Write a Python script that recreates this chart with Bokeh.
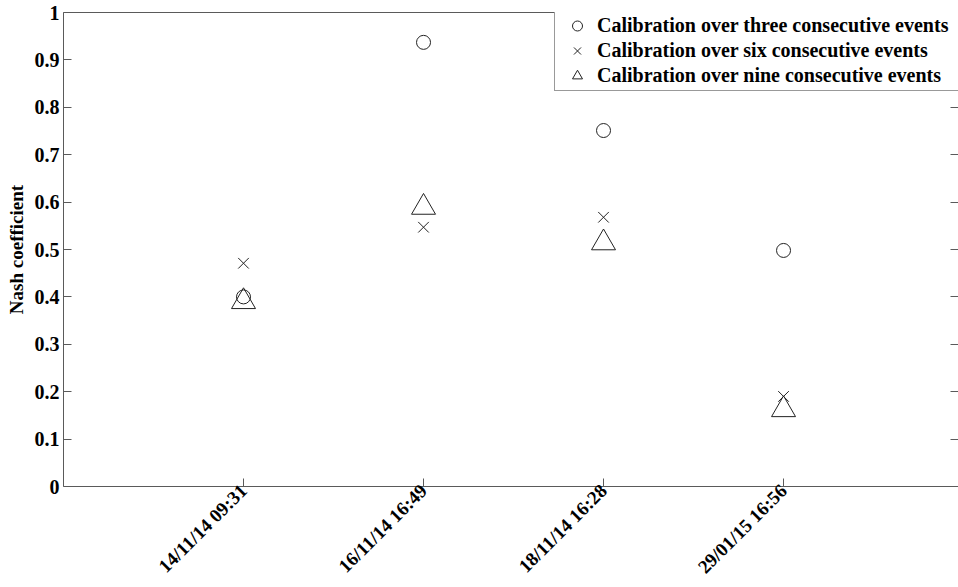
from bokeh.plotting import figure
from bokeh.models import (Range1d, FixedTicker, LinearAxis, Legend, LegendItem,
                          ColumnDataSource)
from bokeh.embed import file_html
from bokeh.resources import INLINE

# ---- data ----
categories = ["14/11/14 09:31", "16/11/14 16:49", "18/11/14 16:28", "29/01/15 16:56"]
three_events = [0.40, 0.937, 0.751, 0.498]
six_events = [0.471, 0.547, 0.568, 0.190]
nine_events = [0.390, 0.589, 0.514, 0.162]
series_names = ["Calibration over three consecutive events",
                "Calibration over six consecutive events",
                "Calibration over nine consecutive events"]
y_ticks = [0, 0.1, 0.2, 0.3, 0.4, 0.5, 0.6, 0.7, 0.8, 0.9, 1]
y_tick_labels = ["0", "0.1", "0.2", "0.3", "0.4", "0.5", "0.6", "0.7", "0.8", "0.9", "1"]

x_pos = [i + 1 for i in range(len(categories))]

FONT = "Liberation Serif"
AXIS_COLOR = "#5a5a5a"
W, H = 958, 587
FRAME_H = 474

p = figure(width=W, height=H, output_backend="svg", toolbar_location=None,
           x_range=Range1d(0, 4.972), y_range=Range1d(0, 1),
           min_border_left=63, min_border_top=12, min_border_right=0,
           min_border_bottom=101)
p.outline_line_color = None
p.xgrid.visible = False
p.ygrid.visible = False

src = ColumnDataSource(dict(x=x_pos, three=three_events, six=six_events, nine=nine_events))

r1 = p.scatter("x", "three", source=src, marker="circle", size=14,
               fill_color=None, line_color="#222222", line_width=1)
r2 = p.scatter("x", "six", source=src, marker="x", size=15,
               line_color="#222222", line_width=1)
r3 = p.scatter("x", "nine", source=src, marker="triangle", size=24,
               fill_color=None, line_color="#222222", line_width=1)

# x axis
xa = p.xaxis[0]
xa.ticker = FixedTicker(ticks=x_pos)
xa.major_label_overrides = {x: c for x, c in zip(x_pos, categories)}
xa.major_label_orientation = 0.7853981633974483
xa.major_tick_in = 8
xa.major_tick_out = 0
xa.minor_tick_line_color = None
xa.axis_line_color = AXIS_COLOR
xa.major_tick_line_color = AXIS_COLOR
xa.major_label_text_font = FONT
xa.major_label_text_font_style = "bold"
xa.major_label_text_font_size = "19px"
xa.major_label_text_color = "black"
xa.major_label_standoff = 1

# y axis
ya = p.yaxis[0]
ya.ticker = FixedTicker(ticks=y_ticks)
ya.major_label_overrides = {t: l for t, l in zip(y_ticks, y_tick_labels)}
ya.major_tick_in = 8
ya.major_tick_out = 0
ya.minor_tick_line_color = None
ya.axis_line_color = AXIS_COLOR
ya.major_tick_line_color = AXIS_COLOR
ya.major_label_text_font = FONT
ya.major_label_text_font_style = "bold"
ya.major_label_text_font_size = "20px"
ya.major_label_text_color = "black"
ya.major_label_standoff = 4
ya.axis_label = "Nash coefficient"
ya.axis_label_text_font = FONT
ya.axis_label_text_font_style = "bold"
ya.axis_label_text_font_size = "19px"
ya.axis_label_text_color = "black"
ya.axis_label_standoff = 5

# top line (frame) and right ticks
top = LinearAxis(ticker=FixedTicker(ticks=[]),
                 axis_line_color=AXIS_COLOR, major_tick_line_color=None,
                 minor_tick_line_color=None)
p.add_layout(top, "above")
right = LinearAxis(ticker=FixedTicker(ticks=y_ticks),
                   major_label_overrides={t: "" for t in y_ticks},
                   axis_line_color=None, major_tick_line_color=AXIS_COLOR,
                   major_tick_in=8, major_tick_out=0, minor_tick_line_color=None,
                   major_label_standoff=0)
p.add_layout(right, "right")

legend = Legend(items=[LegendItem(label=series_names[0], renderers=[r1]),
                       LegendItem(label=series_names[1], renderers=[r2]),
                       LegendItem(label=series_names[2], renderers=[r3])],
                location=(491, FRAME_H - 79), margin=0, padding=2, spacing=0,
                glyph_width=40, glyph_height=25, label_height=25,
                label_standoff=0, label_width=380,
                label_text_font=FONT, label_text_font_style="bold",
                label_text_font_size="20px", label_text_color="black",
                border_line_color="#333333", border_line_width=1,
                background_fill_alpha=1.0)
p.add_layout(legend, "center")

open("out.html", "w").write(file_html(p, INLINE))
